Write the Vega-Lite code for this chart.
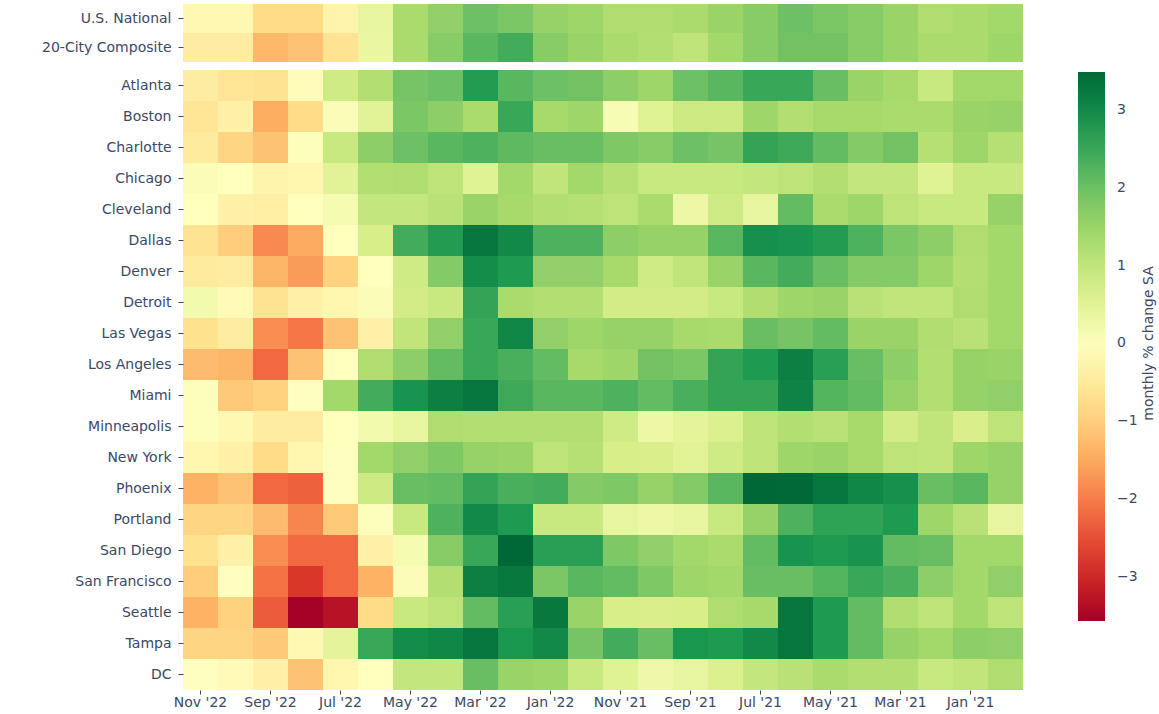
{
  "$schema": "https://vega.github.io/schema/vega-lite/v6.json",
  "padding": {"left": 7, "top": 4, "right": 5, "bottom": 5},
  "background": "white",
  "title": {"text": "monthly % change SA", "orient": "right", "anchor": "middle", "angle": 270, "offset": 14, "dy": -24, "dx": 13, "fontSize": 14, "fontWeight": "normal", "font": "DejaVu Sans", "color": "#3b4866"},
  "config": {
    "view": {"stroke": null},
    "font": "DejaVu Sans",
    "axis": {
      "domain": false,
      "ticks": true,
      "tickSize": 5,
      "tickColor": "#3b4866",
      "labelColor": "#3b4866",
      "labelFont": "DejaVu Sans",
      "labelFontSize": 14,
      "title": null,
      "grid": false
    },
    "legend": {
      "labelFont": "DejaVu Sans",
      "titleFont": "DejaVu Sans",
      "labelColor": "#3b4866",
      "titleColor": "#3b4866"
    }
  },
  "datasets": {
    "top": [
      {"c":"U.S. National","m":"Nov '22","v":-0.2},{"c":"U.S. National","m":"Oct '22","v":-0.2},{"c":"U.S. National","m":"Sep '22","v":-0.8},{"c":"U.S. National","m":"Aug '22","v":-0.8},{"c":"U.S. National","m":"Jul '22","v":-0.3},{"c":"U.S. National","m":"Jun '22","v":0.4},{"c":"U.S. National","m":"May '22","v":1.3},{"c":"U.S. National","m":"Apr '22","v":1.6},{"c":"U.S. National","m":"Mar '22","v":2.0},{"c":"U.S. National","m":"Feb '22","v":1.85},{"c":"U.S. National","m":"Jan '22","v":1.55},{"c":"U.S. National","m":"Dec '21","v":1.45},
      {"c":"U.S. National","m":"Nov '21","v":1.25},{"c":"U.S. National","m":"Oct '21","v":1.25},{"c":"U.S. National","m":"Sep '21","v":1.3},{"c":"U.S. National","m":"Aug '21","v":1.5},{"c":"U.S. National","m":"Jul '21","v":1.7},{"c":"U.S. National","m":"Jun '21","v":2.0},{"c":"U.S. National","m":"May '21","v":1.85},{"c":"U.S. National","m":"Apr '21","v":1.7},{"c":"U.S. National","m":"Mar '21","v":1.5},{"c":"U.S. National","m":"Feb '21","v":1.25},{"c":"U.S. National","m":"Jan '21","v":1.3},{"c":"U.S. National","m":"Dec '20","v":1.4},
      {"c":"20-City Composite","m":"Nov '22","v":-0.45},{"c":"20-City Composite","m":"Oct '22","v":-0.45},{"c":"20-City Composite","m":"Sep '22","v":-1.3},{"c":"20-City Composite","m":"Aug '22","v":-1.15},{"c":"20-City Composite","m":"Jul '22","v":-0.65},{"c":"20-City Composite","m":"Jun '22","v":0.35},{"c":"20-City Composite","m":"May '22","v":1.3},{"c":"20-City Composite","m":"Apr '22","v":1.7},{"c":"20-City Composite","m":"Mar '22","v":2.2},{"c":"20-City Composite","m":"Feb '22","v":2.4},{"c":"20-City Composite","m":"Jan '22","v":1.7},{"c":"20-City Composite","m":"Dec '21","v":1.5},
      {"c":"20-City Composite","m":"Nov '21","v":1.3},{"c":"20-City Composite","m":"Oct '21","v":1.2},{"c":"20-City Composite","m":"Sep '21","v":1.05},{"c":"20-City Composite","m":"Aug '21","v":1.4},{"c":"20-City Composite","m":"Jul '21","v":1.7},{"c":"20-City Composite","m":"Jun '21","v":1.95},{"c":"20-City Composite","m":"May '21","v":1.95},{"c":"20-City Composite","m":"Apr '21","v":1.7},{"c":"20-City Composite","m":"Mar '21","v":1.5},{"c":"20-City Composite","m":"Feb '21","v":1.3},{"c":"20-City Composite","m":"Jan '21","v":1.3},{"c":"20-City Composite","m":"Dec '20","v":1.45}
    ],
    "cities": [
      {"c":"Atlanta","m":"Nov '22","v":-0.45},{"c":"Atlanta","m":"Oct '22","v":-0.6},{"c":"Atlanta","m":"Sep '22","v":-0.65},{"c":"Atlanta","m":"Aug '22","v":-0.1},{"c":"Atlanta","m":"Jul '22","v":0.8},{"c":"Atlanta","m":"Jun '22","v":1.2},{"c":"Atlanta","m":"May '22","v":1.9},{"c":"Atlanta","m":"Apr '22","v":2.0},{"c":"Atlanta","m":"Mar '22","v":2.7},{"c":"Atlanta","m":"Feb '22","v":2.2},{"c":"Atlanta","m":"Jan '22","v":2.0},{"c":"Atlanta","m":"Dec '21","v":1.95},
      {"c":"Atlanta","m":"Nov '21","v":1.65},{"c":"Atlanta","m":"Oct '21","v":1.45},{"c":"Atlanta","m":"Sep '21","v":2.0},{"c":"Atlanta","m":"Aug '21","v":2.2},{"c":"Atlanta","m":"Jul '21","v":2.5},{"c":"Atlanta","m":"Jun '21","v":2.5},{"c":"Atlanta","m":"May '21","v":2.05},{"c":"Atlanta","m":"Apr '21","v":1.5},{"c":"Atlanta","m":"Mar '21","v":1.35},{"c":"Atlanta","m":"Feb '21","v":0.9},{"c":"Atlanta","m":"Jan '21","v":1.4},{"c":"Atlanta","m":"Dec '20","v":1.4},
      {"c":"Boston","m":"Nov '22","v":-0.6},{"c":"Boston","m":"Oct '22","v":-0.35},{"c":"Boston","m":"Sep '22","v":-1.45},{"c":"Boston","m":"Aug '22","v":-0.8},{"c":"Boston","m":"Jul '22","v":0.05},{"c":"Boston","m":"Jun '22","v":0.5},{"c":"Boston","m":"May '22","v":1.85},{"c":"Boston","m":"Apr '22","v":1.65},{"c":"Boston","m":"Mar '22","v":1.3},{"c":"Boston","m":"Feb '22","v":2.5},{"c":"Boston","m":"Jan '22","v":1.35},{"c":"Boston","m":"Dec '21","v":1.45},
      {"c":"Boston","m":"Nov '21","v":0.1},{"c":"Boston","m":"Oct '21","v":0.55},{"c":"Boston","m":"Sep '21","v":0.85},{"c":"Boston","m":"Aug '21","v":0.85},{"c":"Boston","m":"Jul '21","v":1.45},{"c":"Boston","m":"Jun '21","v":1.2},{"c":"Boston","m":"May '21","v":1.35},{"c":"Boston","m":"Apr '21","v":1.35},{"c":"Boston","m":"Mar '21","v":1.3},{"c":"Boston","m":"Feb '21","v":1.3},{"c":"Boston","m":"Jan '21","v":1.5},{"c":"Boston","m":"Dec '20","v":1.55},
      {"c":"Charlotte","m":"Nov '22","v":-0.5},{"c":"Charlotte","m":"Oct '22","v":-0.9},{"c":"Charlotte","m":"Sep '22","v":-1.15},{"c":"Charlotte","m":"Aug '22","v":0.0},{"c":"Charlotte","m":"Jul '22","v":0.9},{"c":"Charlotte","m":"Jun '22","v":1.65},{"c":"Charlotte","m":"May '22","v":2.0},{"c":"Charlotte","m":"Apr '22","v":2.2},{"c":"Charlotte","m":"Mar '22","v":2.3},{"c":"Charlotte","m":"Feb '22","v":2.15},{"c":"Charlotte","m":"Jan '22","v":2.05},{"c":"Charlotte","m":"Dec '21","v":2.05},
      {"c":"Charlotte","m":"Nov '21","v":1.8},{"c":"Charlotte","m":"Oct '21","v":1.7},{"c":"Charlotte","m":"Sep '21","v":2.0},{"c":"Charlotte","m":"Aug '21","v":1.9},{"c":"Charlotte","m":"Jul '21","v":2.55},{"c":"Charlotte","m":"Jun '21","v":2.45},{"c":"Charlotte","m":"May '21","v":2.1},{"c":"Charlotte","m":"Apr '21","v":1.75},{"c":"Charlotte","m":"Mar '21","v":1.95},{"c":"Charlotte","m":"Feb '21","v":1.15},{"c":"Charlotte","m":"Jan '21","v":1.45},{"c":"Charlotte","m":"Dec '20","v":1.15},
      {"c":"Chicago","m":"Nov '22","v":0.05},{"c":"Chicago","m":"Oct '22","v":-0.05},{"c":"Chicago","m":"Sep '22","v":-0.3},{"c":"Chicago","m":"Aug '22","v":-0.25},{"c":"Chicago","m":"Jul '22","v":0.5},{"c":"Chicago","m":"Jun '22","v":1.2},{"c":"Chicago","m":"May '22","v":1.25},{"c":"Chicago","m":"Apr '22","v":1.05},{"c":"Chicago","m":"Mar '22","v":0.55},{"c":"Chicago","m":"Feb '22","v":1.4},{"c":"Chicago","m":"Jan '22","v":1.0},{"c":"Chicago","m":"Dec '21","v":1.4},
      {"c":"Chicago","m":"Nov '21","v":1.15},{"c":"Chicago","m":"Oct '21","v":0.9},{"c":"Chicago","m":"Sep '21","v":0.9},{"c":"Chicago","m":"Aug '21","v":0.9},{"c":"Chicago","m":"Jul '21","v":0.95},{"c":"Chicago","m":"Jun '21","v":1.05},{"c":"Chicago","m":"May '21","v":1.2},{"c":"Chicago","m":"Apr '21","v":0.95},{"c":"Chicago","m":"Mar '21","v":0.95},{"c":"Chicago","m":"Feb '21","v":0.55},{"c":"Chicago","m":"Jan '21","v":0.9},{"c":"Chicago","m":"Dec '20","v":0.9},
      {"c":"Cleveland","m":"Nov '22","v":-0.05},{"c":"Cleveland","m":"Oct '22","v":-0.35},{"c":"Cleveland","m":"Sep '22","v":-0.4},{"c":"Cleveland","m":"Aug '22","v":-0.05},{"c":"Cleveland","m":"Jul '22","v":0.15},{"c":"Cleveland","m":"Jun '22","v":0.95},{"c":"Cleveland","m":"May '22","v":0.95},{"c":"Cleveland","m":"Apr '22","v":1.1},{"c":"Cleveland","m":"Mar '22","v":1.5},{"c":"Cleveland","m":"Feb '22","v":1.35},{"c":"Cleveland","m":"Jan '22","v":1.2},{"c":"Cleveland","m":"Dec '21","v":1.15},
      {"c":"Cleveland","m":"Nov '21","v":1.05},{"c":"Cleveland","m":"Oct '21","v":1.3},{"c":"Cleveland","m":"Sep '21","v":0.3},{"c":"Cleveland","m":"Aug '21","v":0.8},{"c":"Cleveland","m":"Jul '21","v":0.4},{"c":"Cleveland","m":"Jun '21","v":2.1},{"c":"Cleveland","m":"May '21","v":1.3},{"c":"Cleveland","m":"Apr '21","v":1.45},{"c":"Cleveland","m":"Mar '21","v":1.05},{"c":"Cleveland","m":"Feb '21","v":0.9},{"c":"Cleveland","m":"Jan '21","v":0.9},{"c":"Cleveland","m":"Dec '20","v":1.55},
      {"c":"Dallas","m":"Nov '22","v":-0.65},{"c":"Dallas","m":"Oct '22","v":-1.0},{"c":"Dallas","m":"Sep '22","v":-1.85},{"c":"Dallas","m":"Aug '22","v":-1.5},{"c":"Dallas","m":"Jul '22","v":-0.05},{"c":"Dallas","m":"Jun '22","v":0.7},{"c":"Dallas","m":"May '22","v":2.4},{"c":"Dallas","m":"Apr '22","v":2.7},{"c":"Dallas","m":"Mar '22","v":3.3},{"c":"Dallas","m":"Feb '22","v":3.0},{"c":"Dallas","m":"Jan '22","v":2.3},{"c":"Dallas","m":"Dec '21","v":2.3},
      {"c":"Dallas","m":"Nov '21","v":1.65},{"c":"Dallas","m":"Oct '21","v":1.55},{"c":"Dallas","m":"Sep '21","v":1.55},{"c":"Dallas","m":"Aug '21","v":2.2},{"c":"Dallas","m":"Jul '21","v":2.9},{"c":"Dallas","m":"Jun '21","v":2.85},{"c":"Dallas","m":"May '21","v":2.7},{"c":"Dallas","m":"Apr '21","v":2.3},{"c":"Dallas","m":"Mar '21","v":1.85},{"c":"Dallas","m":"Feb '21","v":1.65},{"c":"Dallas","m":"Jan '21","v":1.25},{"c":"Dallas","m":"Dec '20","v":1.4},
      {"c":"Denver","m":"Nov '22","v":-0.5},{"c":"Denver","m":"Oct '22","v":-0.45},{"c":"Denver","m":"Sep '22","v":-1.35},{"c":"Denver","m":"Aug '22","v":-1.65},{"c":"Denver","m":"Jul '22","v":-0.95},{"c":"Denver","m":"Jun '22","v":-0.05},{"c":"Denver","m":"May '22","v":0.8},{"c":"Denver","m":"Apr '22","v":1.75},{"c":"Denver","m":"Mar '22","v":2.95},{"c":"Denver","m":"Feb '22","v":2.75},{"c":"Denver","m":"Jan '22","v":1.6},{"c":"Denver","m":"Dec '21","v":1.6},
      {"c":"Denver","m":"Nov '21","v":1.35},{"c":"Denver","m":"Oct '21","v":0.8},{"c":"Denver","m":"Sep '21","v":1.0},{"c":"Denver","m":"Aug '21","v":1.5},{"c":"Denver","m":"Jul '21","v":2.2},{"c":"Denver","m":"Jun '21","v":2.4},{"c":"Denver","m":"May '21","v":2.05},{"c":"Denver","m":"Apr '21","v":1.75},{"c":"Denver","m":"Mar '21","v":1.75},{"c":"Denver","m":"Feb '21","v":1.45},{"c":"Denver","m":"Jan '21","v":1.2},{"c":"Denver","m":"Dec '20","v":1.4},
      {"c":"Detroit","m":"Nov '22","v":0.2},{"c":"Detroit","m":"Oct '22","v":-0.15},{"c":"Detroit","m":"Sep '22","v":-0.65},{"c":"Detroit","m":"Aug '22","v":-0.35},{"c":"Detroit","m":"Jul '22","v":-0.25},{"c":"Detroit","m":"Jun '22","v":0.05},{"c":"Detroit","m":"May '22","v":0.75},{"c":"Detroit","m":"Apr '22","v":0.9},{"c":"Detroit","m":"Mar '22","v":2.55},{"c":"Detroit","m":"Feb '22","v":1.3},{"c":"Detroit","m":"Jan '22","v":1.2},{"c":"Detroit","m":"Dec '21","v":1.2},
      {"c":"Detroit","m":"Nov '21","v":0.75},{"c":"Detroit","m":"Oct '21","v":0.75},{"c":"Detroit","m":"Sep '21","v":0.75},{"c":"Detroit","m":"Aug '21","v":0.9},{"c":"Detroit","m":"Jul '21","v":1.25},{"c":"Detroit","m":"Jun '21","v":1.45},{"c":"Detroit","m":"May '21","v":1.5},{"c":"Detroit","m":"Apr '21","v":1.1},{"c":"Detroit","m":"Mar '21","v":1.0},{"c":"Detroit","m":"Feb '21","v":1.0},{"c":"Detroit","m":"Jan '21","v":1.25},{"c":"Detroit","m":"Dec '20","v":1.4},
      {"c":"Las Vegas","m":"Nov '22","v":-0.7},{"c":"Las Vegas","m":"Oct '22","v":-0.45},{"c":"Las Vegas","m":"Sep '22","v":-1.8},{"c":"Las Vegas","m":"Aug '22","v":-2.05},{"c":"Las Vegas","m":"Jul '22","v":-1.15},{"c":"Las Vegas","m":"Jun '22","v":-0.35},{"c":"Las Vegas","m":"May '22","v":1.0},{"c":"Las Vegas","m":"Apr '22","v":1.6},{"c":"Las Vegas","m":"Mar '22","v":2.5},{"c":"Las Vegas","m":"Feb '22","v":3.05},{"c":"Las Vegas","m":"Jan '22","v":1.6},{"c":"Las Vegas","m":"Dec '21","v":1.45},
      {"c":"Las Vegas","m":"Nov '21","v":1.55},{"c":"Las Vegas","m":"Oct '21","v":1.55},{"c":"Las Vegas","m":"Sep '21","v":1.35},{"c":"Las Vegas","m":"Aug '21","v":1.3},{"c":"Las Vegas","m":"Jul '21","v":2.05},{"c":"Las Vegas","m":"Jun '21","v":1.9},{"c":"Las Vegas","m":"May '21","v":2.1},{"c":"Las Vegas","m":"Apr '21","v":1.5},{"c":"Las Vegas","m":"Mar '21","v":1.5},{"c":"Las Vegas","m":"Feb '21","v":1.25},{"c":"Las Vegas","m":"Jan '21","v":1.1},{"c":"Las Vegas","m":"Dec '20","v":1.4},
      {"c":"Los Angeles","m":"Nov '22","v":-1.25},{"c":"Los Angeles","m":"Oct '22","v":-1.35},{"c":"Los Angeles","m":"Sep '22","v":-2.2},{"c":"Los Angeles","m":"Aug '22","v":-1.15},{"c":"Los Angeles","m":"Jul '22","v":-0.05},{"c":"Los Angeles","m":"Jun '22","v":1.25},{"c":"Los Angeles","m":"May '22","v":1.65},{"c":"Los Angeles","m":"Apr '22","v":2.1},{"c":"Los Angeles","m":"Mar '22","v":2.5},{"c":"Los Angeles","m":"Feb '22","v":2.35},{"c":"Los Angeles","m":"Jan '22","v":2.1},{"c":"Los Angeles","m":"Dec '21","v":1.35},
      {"c":"Los Angeles","m":"Nov '21","v":1.45},{"c":"Los Angeles","m":"Oct '21","v":1.95},{"c":"Los Angeles","m":"Sep '21","v":1.85},{"c":"Los Angeles","m":"Aug '21","v":2.55},{"c":"Los Angeles","m":"Jul '21","v":2.75},{"c":"Los Angeles","m":"Jun '21","v":3.15},{"c":"Los Angeles","m":"May '21","v":2.65},{"c":"Los Angeles","m":"Apr '21","v":2.05},{"c":"Los Angeles","m":"Mar '21","v":1.65},{"c":"Los Angeles","m":"Feb '21","v":1.2},{"c":"Los Angeles","m":"Jan '21","v":1.55},{"c":"Los Angeles","m":"Dec '20","v":1.5},
      {"c":"Miami","m":"Nov '22","v":0.0},{"c":"Miami","m":"Oct '22","v":-1.05},{"c":"Miami","m":"Sep '22","v":-0.95},{"c":"Miami","m":"Aug '22","v":-0.03},{"c":"Miami","m":"Jul '22","v":1.4},{"c":"Miami","m":"Jun '22","v":2.4},{"c":"Miami","m":"May '22","v":2.85},{"c":"Miami","m":"Apr '22","v":3.15},{"c":"Miami","m":"Mar '22","v":3.3},{"c":"Miami","m":"Feb '22","v":2.45},{"c":"Miami","m":"Jan '22","v":2.2},{"c":"Miami","m":"Dec '21","v":2.2},
      {"c":"Miami","m":"Nov '21","v":2.3},{"c":"Miami","m":"Oct '21","v":2.1},{"c":"Miami","m":"Sep '21","v":2.35},{"c":"Miami","m":"Aug '21","v":2.55},{"c":"Miami","m":"Jul '21","v":2.55},{"c":"Miami","m":"Jun '21","v":3.1},{"c":"Miami","m":"May '21","v":2.25},{"c":"Miami","m":"Apr '21","v":2.1},{"c":"Miami","m":"Mar '21","v":1.55},{"c":"Miami","m":"Feb '21","v":1.2},{"c":"Miami","m":"Jan '21","v":1.55},{"c":"Miami","m":"Dec '20","v":1.6},
      {"c":"Minneapolis","m":"Nov '22","v":0.0},{"c":"Minneapolis","m":"Oct '22","v":-0.2},{"c":"Minneapolis","m":"Sep '22","v":-0.45},{"c":"Minneapolis","m":"Aug '22","v":-0.45},{"c":"Minneapolis","m":"Jul '22","v":-0.05},{"c":"Minneapolis","m":"Jun '22","v":0.2},{"c":"Minneapolis","m":"May '22","v":0.4},{"c":"Minneapolis","m":"Apr '22","v":1.25},{"c":"Minneapolis","m":"Mar '22","v":1.2},{"c":"Minneapolis","m":"Feb '22","v":1.2},{"c":"Minneapolis","m":"Jan '22","v":1.2},{"c":"Minneapolis","m":"Dec '21","v":1.2},
      {"c":"Minneapolis","m":"Nov '21","v":0.8},{"c":"Minneapolis","m":"Oct '21","v":0.3},{"c":"Minneapolis","m":"Sep '21","v":0.45},{"c":"Minneapolis","m":"Aug '21","v":0.6},{"c":"Minneapolis","m":"Jul '21","v":1.05},{"c":"Minneapolis","m":"Jun '21","v":1.2},{"c":"Minneapolis","m":"May '21","v":1.1},{"c":"Minneapolis","m":"Apr '21","v":1.35},{"c":"Minneapolis","m":"Mar '21","v":0.75},{"c":"Minneapolis","m":"Feb '21","v":1.0},{"c":"Minneapolis","m":"Jan '21","v":0.65},{"c":"Minneapolis","m":"Dec '20","v":1.05},
      {"c":"New York","m":"Nov '22","v":-0.25},{"c":"New York","m":"Oct '22","v":-0.35},{"c":"New York","m":"Sep '22","v":-0.8},{"c":"New York","m":"Aug '22","v":-0.25},{"c":"New York","m":"Jul '22","v":-0.02},{"c":"New York","m":"Jun '22","v":1.4},{"c":"New York","m":"May '22","v":1.6},{"c":"New York","m":"Apr '22","v":1.8},{"c":"New York","m":"Mar '22","v":1.55},{"c":"New York","m":"Feb '22","v":1.5},{"c":"New York","m":"Jan '22","v":1.05},{"c":"New York","m":"Dec '21","v":1.15},
      {"c":"New York","m":"Nov '21","v":0.7},{"c":"New York","m":"Oct '21","v":0.65},{"c":"New York","m":"Sep '21","v":0.5},{"c":"New York","m":"Aug '21","v":0.8},{"c":"New York","m":"Jul '21","v":1.05},{"c":"New York","m":"Jun '21","v":1.45},{"c":"New York","m":"May '21","v":1.5},{"c":"New York","m":"Apr '21","v":1.35},{"c":"New York","m":"Mar '21","v":1.05},{"c":"New York","m":"Feb '21","v":1.0},{"c":"New York","m":"Jan '21","v":1.45},{"c":"New York","m":"Dec '20","v":1.55},
      {"c":"Phoenix","m":"Nov '22","v":-1.4},{"c":"Phoenix","m":"Oct '22","v":-1.15},{"c":"Phoenix","m":"Sep '22","v":-2.2},{"c":"Phoenix","m":"Aug '22","v":-2.3},{"c":"Phoenix","m":"Jul '22","v":-0.02},{"c":"Phoenix","m":"Jun '22","v":0.85},{"c":"Phoenix","m":"May '22","v":2.05},{"c":"Phoenix","m":"Apr '22","v":2.1},{"c":"Phoenix","m":"Mar '22","v":2.55},{"c":"Phoenix","m":"Feb '22","v":2.35},{"c":"Phoenix","m":"Jan '22","v":2.4},{"c":"Phoenix","m":"Dec '21","v":1.75},
      {"c":"Phoenix","m":"Nov '21","v":1.8},{"c":"Phoenix","m":"Oct '21","v":1.55},{"c":"Phoenix","m":"Sep '21","v":1.75},{"c":"Phoenix","m":"Aug '21","v":2.2},{"c":"Phoenix","m":"Jul '21","v":3.5},{"c":"Phoenix","m":"Jun '21","v":3.48},{"c":"Phoenix","m":"May '21","v":3.3},{"c":"Phoenix","m":"Apr '21","v":3.05},{"c":"Phoenix","m":"Mar '21","v":2.9},{"c":"Phoenix","m":"Feb '21","v":2.05},{"c":"Phoenix","m":"Jan '21","v":2.2},{"c":"Phoenix","m":"Dec '20","v":1.55},
      {"c":"Portland","m":"Nov '22","v":-0.9},{"c":"Portland","m":"Oct '22","v":-0.9},{"c":"Portland","m":"Sep '22","v":-1.25},{"c":"Portland","m":"Aug '22","v":-1.9},{"c":"Portland","m":"Jul '22","v":-1.05},{"c":"Portland","m":"Jun '22","v":0.0},{"c":"Portland","m":"May '22","v":0.9},{"c":"Portland","m":"Apr '22","v":2.3},{"c":"Portland","m":"Mar '22","v":3.0},{"c":"Portland","m":"Feb '22","v":2.75},{"c":"Portland","m":"Jan '22","v":0.9},{"c":"Portland","m":"Dec '21","v":0.9},
      {"c":"Portland","m":"Nov '21","v":0.4},{"c":"Portland","m":"Oct '21","v":0.3},{"c":"Portland","m":"Sep '21","v":0.38},{"c":"Portland","m":"Aug '21","v":0.9},{"c":"Portland","m":"Jul '21","v":1.55},{"c":"Portland","m":"Jun '21","v":2.3},{"c":"Portland","m":"May '21","v":2.6},{"c":"Portland","m":"Apr '21","v":2.6},{"c":"Portland","m":"Mar '21","v":2.75},{"c":"Portland","m":"Feb '21","v":1.45},{"c":"Portland","m":"Jan '21","v":1.1},{"c":"Portland","m":"Dec '20","v":0.4},
      {"c":"San Diego","m":"Nov '22","v":-0.7},{"c":"San Diego","m":"Oct '22","v":-0.35},{"c":"San Diego","m":"Sep '22","v":-1.8},{"c":"San Diego","m":"Aug '22","v":-2.2},{"c":"San Diego","m":"Jul '22","v":-2.2},{"c":"San Diego","m":"Jun '22","v":-0.35},{"c":"San Diego","m":"May '22","v":0.15},{"c":"San Diego","m":"Apr '22","v":1.7},{"c":"San Diego","m":"Mar '22","v":2.5},{"c":"San Diego","m":"Feb '22","v":3.5},{"c":"San Diego","m":"Jan '22","v":2.65},{"c":"San Diego","m":"Dec '21","v":2.65},
      {"c":"San Diego","m":"Nov '21","v":1.8},{"c":"San Diego","m":"Oct '21","v":1.6},{"c":"San Diego","m":"Sep '21","v":1.4},{"c":"San Diego","m":"Aug '21","v":1.3},{"c":"San Diego","m":"Jul '21","v":2.1},{"c":"San Diego","m":"Jun '21","v":2.85},{"c":"San Diego","m":"May '21","v":2.75},{"c":"San Diego","m":"Apr '21","v":2.85},{"c":"San Diego","m":"Mar '21","v":2.1},{"c":"San Diego","m":"Feb '21","v":2.05},{"c":"San Diego","m":"Jan '21","v":1.4},{"c":"San Diego","m":"Dec '20","v":1.4},
      {"c":"San Francisco","m":"Nov '22","v":-1.0},{"c":"San Francisco","m":"Oct '22","v":-0.02},{"c":"San Francisco","m":"Sep '22","v":-2.1},{"c":"San Francisco","m":"Aug '22","v":-2.8},{"c":"San Francisco","m":"Jul '22","v":-2.2},{"c":"San Francisco","m":"Jun '22","v":-1.4},{"c":"San Francisco","m":"May '22","v":0.05},{"c":"San Francisco","m":"Apr '22","v":1.2},{"c":"San Francisco","m":"Mar '22","v":3.15},{"c":"San Francisco","m":"Feb '22","v":3.25},{"c":"San Francisco","m":"Jan '22","v":1.85},{"c":"San Francisco","m":"Dec '21","v":2.2},
      {"c":"San Francisco","m":"Nov '21","v":2.1},{"c":"San Francisco","m":"Oct '21","v":1.8},{"c":"San Francisco","m":"Sep '21","v":1.45},{"c":"San Francisco","m":"Aug '21","v":1.4},{"c":"San Francisco","m":"Jul '21","v":2.05},{"c":"San Francisco","m":"Jun '21","v":2.05},{"c":"San Francisco","m":"May '21","v":2.25},{"c":"San Francisco","m":"Apr '21","v":2.5},{"c":"San Francisco","m":"Mar '21","v":2.35},{"c":"San Francisco","m":"Feb '21","v":1.65},{"c":"San Francisco","m":"Jan '21","v":1.4},{"c":"San Francisco","m":"Dec '20","v":1.6},
      {"c":"Seattle","m":"Nov '22","v":-1.4},{"c":"Seattle","m":"Oct '22","v":-0.95},{"c":"Seattle","m":"Sep '22","v":-2.35},{"c":"Seattle","m":"Aug '22","v":-3.56},{"c":"Seattle","m":"Jul '22","v":-3.3},{"c":"Seattle","m":"Jun '22","v":-0.8},{"c":"Seattle","m":"May '22","v":0.9},{"c":"Seattle","m":"Apr '22","v":1.05},{"c":"Seattle","m":"Mar '22","v":2.1},{"c":"Seattle","m":"Feb '22","v":2.65},{"c":"Seattle","m":"Jan '22","v":3.25},{"c":"Seattle","m":"Dec '21","v":1.5},
      {"c":"Seattle","m":"Nov '21","v":0.7},{"c":"Seattle","m":"Oct '21","v":0.65},{"c":"Seattle","m":"Sep '21","v":0.7},{"c":"Seattle","m":"Aug '21","v":1.25},{"c":"Seattle","m":"Jul '21","v":1.35},{"c":"Seattle","m":"Jun '21","v":3.3},{"c":"Seattle","m":"May '21","v":2.75},{"c":"Seattle","m":"Apr '21","v":2.1},{"c":"Seattle","m":"Mar '21","v":1.25},{"c":"Seattle","m":"Feb '21","v":1.05},{"c":"Seattle","m":"Jan '21","v":1.4},{"c":"Seattle","m":"Dec '20","v":1.05},
      {"c":"Tampa","m":"Nov '22","v":-0.9},{"c":"Tampa","m":"Oct '22","v":-0.9},{"c":"Tampa","m":"Sep '22","v":-1.05},{"c":"Tampa","m":"Aug '22","v":-0.2},{"c":"Tampa","m":"Jul '22","v":0.45},{"c":"Tampa","m":"Jun '22","v":2.5},{"c":"Tampa","m":"May '22","v":2.95},{"c":"Tampa","m":"Apr '22","v":3.05},{"c":"Tampa","m":"Mar '22","v":3.3},{"c":"Tampa","m":"Feb '22","v":2.8},{"c":"Tampa","m":"Jan '22","v":3.0},{"c":"Tampa","m":"Dec '21","v":1.9},
      {"c":"Tampa","m":"Nov '21","v":2.4},{"c":"Tampa","m":"Oct '21","v":2.05},{"c":"Tampa","m":"Sep '21","v":2.8},{"c":"Tampa","m":"Aug '21","v":2.75},{"c":"Tampa","m":"Jul '21","v":3.0},{"c":"Tampa","m":"Jun '21","v":3.3},{"c":"Tampa","m":"May '21","v":2.75},{"c":"Tampa","m":"Apr '21","v":2.1},{"c":"Tampa","m":"Mar '21","v":1.55},{"c":"Tampa","m":"Feb '21","v":1.4},{"c":"Tampa","m":"Jan '21","v":1.65},{"c":"Tampa","m":"Dec '20","v":1.6},
      {"c":"DC","m":"Nov '22","v":-0.02},{"c":"DC","m":"Oct '22","v":-0.15},{"c":"DC","m":"Sep '22","v":-0.35},{"c":"DC","m":"Aug '22","v":-1.15},{"c":"DC","m":"Jul '22","v":-0.25},{"c":"DC","m":"Jun '22","v":-0.05},{"c":"DC","m":"May '22","v":0.95},{"c":"DC","m":"Apr '22","v":0.95},{"c":"DC","m":"Mar '22","v":2.05},{"c":"DC","m":"Feb '22","v":1.5},{"c":"DC","m":"Jan '22","v":1.45},{"c":"DC","m":"Dec '21","v":0.9},
      {"c":"DC","m":"Nov '21","v":0.55},{"c":"DC","m":"Oct '21","v":0.25},{"c":"DC","m":"Sep '21","v":0.4},{"c":"DC","m":"Aug '21","v":0.6},{"c":"DC","m":"Jul '21","v":0.95},{"c":"DC","m":"Jun '21","v":1.1},{"c":"DC","m":"May '21","v":1.3},{"c":"DC","m":"Apr '21","v":1.2},{"c":"DC","m":"Mar '21","v":1.2},{"c":"DC","m":"Feb '21","v":0.9},{"c":"DC","m":"Jan '21","v":1.0},{"c":"DC","m":"Dec '20","v":1.25}
    ]
  },
  "spacing": 8,
  "vconcat": [
    {
      "data": {"name": "top"},
      "width": 840,
      "height": 58,
      "mark": {"type": "rect"},
      "encoding": {
        "x": {"field": "m", "type": "ordinal", "sort": ["Nov '22","Oct '22","Sep '22","Aug '22","Jul '22","Jun '22","May '22","Apr '22","Mar '22","Feb '22","Jan '22","Dec '21","Nov '21","Oct '21","Sep '21","Aug '21","Jul '21","Jun '21","May '21","Apr '21","Mar '21","Feb '21","Jan '21","Dec '20"], "axis": null},
        "y": {"field": "c", "type": "nominal", "sort": ["U.S. National","20-City Composite"], "axis": {"minExtent": 176, "maxExtent": 176, "labelPadding": 7}},
        "color": {
          "field": "v", "type": "quantitative",
          "scale": {"type": "linear", "domain": [-3.57,-2.864,-2.158,-1.452,-0.746,-0.04,0.666,1.372,2.078,2.784,3.49], "range": ["#a50026","#d73027","#f46d43","#fdae61","#fee08b","#ffffbf","#d9ef8b","#a6d96a","#66bd63","#1a9850","#006837"], "interpolate": "rgb"},
          "legend": {"type": "gradient", "title": null, "orient": "none", "legendX": 895, "legendY": 68, "direction": "vertical", "gradientLength": 549, "gradientThickness": 27, "values": [-3,-2,-1,0,1,2,3], "format": "d", "labelExpr": "replace(datum.label, '-', '−')", "labelFontSize": 14, "labelOffset": 12, "gradientStrokeWidth": 0}
        }
      }
    },
    {
      "data": {"name": "cities"},
      "width": 840,
      "height": 620,
      "mark": {"type": "rect"},
      "encoding": {
        "x": {"field": "m", "type": "ordinal", "sort": ["Nov '22","Oct '22","Sep '22","Aug '22","Jul '22","Jun '22","May '22","Apr '22","Mar '22","Feb '22","Jan '22","Dec '21","Nov '21","Oct '21","Sep '21","Aug '21","Jul '21","Jun '21","May '21","Apr '21","Mar '21","Feb '21","Jan '21","Dec '20"], "axis": {"values": ["Nov '22","Sep '22","Jul '22","May '22","Mar '22","Jan '22","Nov '21","Sep '21","Jul '21","May '21","Mar '21","Jan '21"], "labelAngle": 0, "labelPadding": 1, "tickSize": 4}},
        "y": {"field": "c", "type": "nominal", "sort": ["Atlanta","Boston","Charlotte","Chicago","Cleveland","Dallas","Denver","Detroit","Las Vegas","Los Angeles","Miami","Minneapolis","New York","Phoenix","Portland","San Diego","San Francisco","Seattle","Tampa","DC"], "axis": {"minExtent": 176, "maxExtent": 176, "labelPadding": 7}},
        "color": {
          "field": "v", "type": "quantitative",
          "scale": {"type": "linear", "domain": [-3.57,-2.864,-2.158,-1.452,-0.746,-0.04,0.666,1.372,2.078,2.784,3.49], "range": ["#a50026","#d73027","#f46d43","#fdae61","#fee08b","#ffffbf","#d9ef8b","#a6d96a","#66bd63","#1a9850","#006837"], "interpolate": "rgb"},
          "legend": {"type": "gradient", "title": null, "orient": "none", "legendX": 895, "legendY": 68, "direction": "vertical", "gradientLength": 549, "gradientThickness": 27, "values": [-3,-2,-1,0,1,2,3], "format": "d", "labelExpr": "replace(datum.label, '-', '−')", "labelFontSize": 14, "labelOffset": 12, "gradientStrokeWidth": 0}
        }
      }
    }
  ]
}
